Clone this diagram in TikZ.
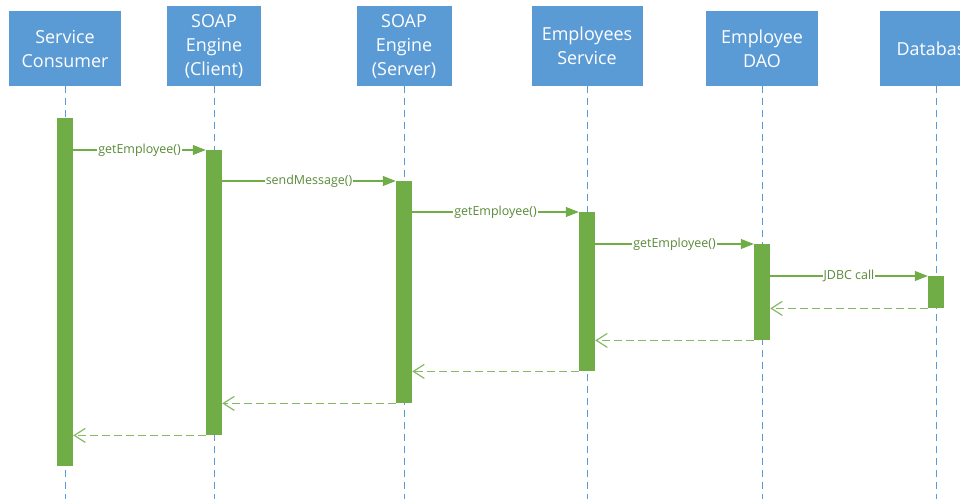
\documentclass[tikz,border=0pt]{standalone}
\usepackage{fontspec}
\setmainfont{Open Sans}
\usetikzlibrary{calc}
\usetikzlibrary{arrows.meta}
\definecolor{boxblue}{HTML}{5B9BD5}
\definecolor{actgreen}{HTML}{70AD47}

\begin{document}
\begin{tikzpicture}[
        x=1bp, y=-1bp,
        head/.style={fill=boxblue,text=white,font=\fontsize{18}{24}\selectfont,align=center,inner sep=0pt,anchor=north},
        life/.style={boxblue,dash pattern=on 7bp off 5bp,line width=1bp},
        act/.style={fill=actgreen,minimum width=16bp,inner sep=0pt,anchor=north},
        call/.style={actgreen,line width=1.2bp,-{Triangle[length=13bp,width=10bp]}},
        reply/.style={actgreen!85,line width=1.2bp,dash pattern=on 8bp off 4bp,-{Straight Barb[length=11bp,width=14bp]}},
        msg/.style={fill=white,text=actgreen!80!black,font=\fontsize{12.5}{14}\selectfont,inner sep=1bp}
    ]
        \clip (0,0) rectangle (960,499);
        \coordinate (bottom) at (0,499);

        % header boxes
        \node[head,minimum width=111bp,minimum height=75bp] (sc) at (65,11) {Service\\Consumer};
        \node[head,minimum width=94bp,minimum height=80bp] (cl) at (214,6) {SOAP\\Engine\\(Client)};
        \node[head,minimum width=95bp,minimum height=80bp] (sv) at (404,6) {SOAP\\Engine\\(Server)};
        \node[head,minimum width=111bp,minimum height=80bp] (es) at (587,6) {Employees\\Service};
        \node[head,minimum width=112bp,minimum height=75bp] (dao) at (762,11) {Employee\\DAO};
        \node[head,minimum width=112bp,minimum height=75bp] (db) at (936,11) {Database};

        % lifelines
        \foreach \p in {sc,cl,sv,es,dao,db}
            \draw[life] (\p.south) -- (\p.south |- bottom);

        % activations
        \node[act,minimum height=348bp] (asc) at (65,118) {};
        \node[act,minimum height=285bp] (acl) at (214,150) {};
        \node[act,minimum height=222bp] (asv) at (404,181) {};
        \node[act,minimum height=159bp] (aes) at (587,212) {};
        \node[act,minimum height=96bp] (adao) at (762,244) {};
        \node[act,minimum height=32bp] (adb) at (936,276) {};

        % calls
        \draw[call] (asc.east |- acl.north) -- node[msg] {getEmployee()} (acl.north west);
        \draw[call] (acl.east |- asv.north) -- node[msg] {sendMessage()} (asv.north west);
        \draw[call] (asv.east |- aes.north) -- node[msg] {getEmployee()} (aes.north west);
        \draw[call] (aes.east |- adao.north) -- node[msg] {getEmployee()} (adao.north west);
        \draw[call] (adao.east |- adb.north) -- node[msg] {JDBC call} (adb.north west);

        % replies
        \draw[reply] (adb.south west) -- (adao.east |- adb.south);
        \draw[reply] (adao.south west) -- (aes.east |- adao.south);
        \draw[reply] (aes.south west) -- (asv.east |- aes.south);
        \draw[reply] (asv.south west) -- (acl.east |- asv.south);
        \draw[reply] (acl.south west) -- (asc.east |- acl.south);
    \end{tikzpicture}
\end{document}
